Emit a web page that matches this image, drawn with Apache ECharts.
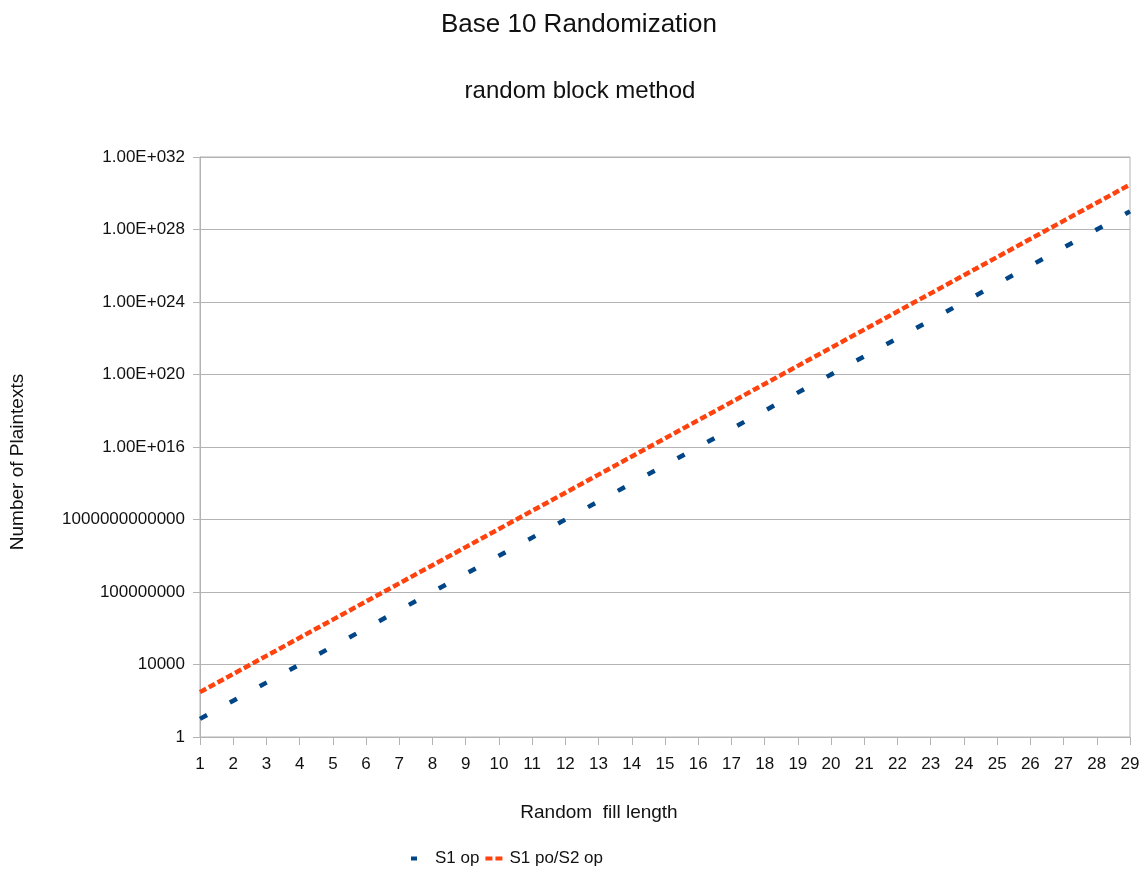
<!DOCTYPE html>
<html>
<head>
<meta charset="utf-8">
<title>Base 10 Randomization</title>
<script src="https://cdn.jsdelivr.net/npm/echarts@6/dist/echarts.min.js"></script>
<style>
  html, body { margin: 0; padding: 0; background: #ffffff; }
  #chart { width: 1143px; height: 875px; }
</style>
</head>
<body>
<div id="chart"></div>
<script>
// Random fill length (x categories)
const fillLengths = ['1','2','3','4','5','6','7','8','9','10','11','12','13','14','15',
  '16','17','18','19','20','21','22','23','24','25','26','27','28','29'];

// Number of plaintexts, S1 op
const s1Op = [1e1, 1e2, 1e3, 1e4, 1e5, 1e6, 1e7, 1e8, 1e9, 1e10, 1e11, 1e12, 1e13, 1e14, 1e15,
  1e16, 1e17, 1e18, 1e19, 1e20, 1e21, 1e22, 1e23, 1e24, 1e25, 1e26, 1e27, 1e28, 1e29];

// Number of plaintexts, S1 po/S2 op
const s1PoS2Op = [3e2, 3e3, 3e4, 3e5, 3e6, 3e7, 3e8, 3e9, 3e10, 3e11, 3e12, 3e13, 3e14, 3e15, 3e16,
  3e17, 3e18, 3e19, 3e20, 3e21, 3e22, 3e23, 3e24, 3e25, 3e26, 3e27, 3e28, 3e29, 3e30];

// Y tick labels, one per 10^4 step starting at 1
const yTickLabels = ['1', '10000', '100000000', '1000000000000', '1.00E+016',
  '1.00E+020', '1.00E+024', '1.00E+028', '1.00E+032'];

const FONT = '"Liberation Sans", Arial, sans-serif';
const GRID_GRAY = '#b3b3b3';
const TEXT = '#111111';

const chart = echarts.init(document.getElementById('chart'), null, { renderer: 'canvas' });

chart.setOption({
  backgroundColor: '#ffffff',
  animation: false,
  title: [
    {
      text: 'Base 10 Randomization',
      left: 574, top: 7, textAlign: 'center',
      textStyle: { fontFamily: FONT, fontSize: 26, fontWeight: 'normal', color: TEXT }
    },
    {
      text: 'random block method',
      left: 575, top: 74, textAlign: 'center',
      textStyle: { fontFamily: FONT, fontSize: 24, fontWeight: 'normal', color: TEXT }
    }
  ],
  graphic: [
    {
      type: 'text', x: 599, y: 813,
      style: { text: 'Random  fill length', align: 'center', verticalAlign: 'middle',
        font: '19px ' + FONT, fill: TEXT }
    },
    {
      type: 'text', x: 18, y: 462, rotation: Math.PI / 2,
      style: { text: 'Number of Plaintexts', align: 'center', verticalAlign: 'middle',
        font: '19px ' + FONT, fill: TEXT }
    }
  ],
  legend: {
    left: 409, top: 850, padding: 0,
    itemWidth: 19, itemHeight: 5, itemGap: 4,
    itemStyle: { opacity: 0 },
    textStyle: { fontFamily: FONT, fontSize: 17, color: TEXT },
    data: [
      { name: 'S1 op', lineStyle: { type: [6, 40], width: 4 } },
      { name: 'S1 po/S2 op', lineStyle: { type: [7, 3], width: 4 } }
    ]
  },
  grid: {
    left: 200, right: 13, top: 157, bottom: 138,
    show: true, borderColor: GRID_GRAY, borderWidth: 1, backgroundColor: 'transparent'
  },
  xAxis: {
    type: 'category',
    data: fillLengths,
    boundaryGap: false,
    axisLine: { lineStyle: { color: GRID_GRAY, width: 1 } },
    axisTick: { show: true, length: 8, alignWithLabel: true, lineStyle: { color: GRID_GRAY } },
    axisLabel: { interval: 0, margin: 19, fontFamily: FONT, fontSize: 17, color: TEXT },
    splitLine: { show: false }
  },
  yAxis: {
    type: 'log',
    logBase: 10,
    min: 1,
    max: 1e32,
    interval: 4,
    axisLine: { show: true, lineStyle: { color: GRID_GRAY, width: 1 } },
    axisTick: { show: true, length: 7, lineStyle: { color: GRID_GRAY } },
    axisLabel: {
      margin: 15, fontFamily: FONT, fontSize: 17, color: TEXT,
      formatter: function (v) {
        const e = Math.round(Math.log10(v));
        return e % 4 === 0 ? (yTickLabels[e / 4] || '') : '';
      }
    },
    splitLine: { show: true, lineStyle: { color: GRID_GRAY, width: 1 } },
    minorTick: { show: false }
  },
  series: [
    {
      name: 'S1 op',
      type: 'line',
      data: s1Op,
      symbol: 'none',
      color: '#004586',
      lineStyle: { color: '#004586', width: 4.5, type: [8, 26], cap: 'butt' }
    },
    {
      name: 'S1 po/S2 op',
      type: 'line',
      data: s1PoS2Op,
      symbol: 'none',
      color: '#ff420e',
      lineStyle: { color: '#ff420e', width: 4.5, type: [7, 3], cap: 'butt' }
    }
  ]
});
</script>
</body>
</html>
